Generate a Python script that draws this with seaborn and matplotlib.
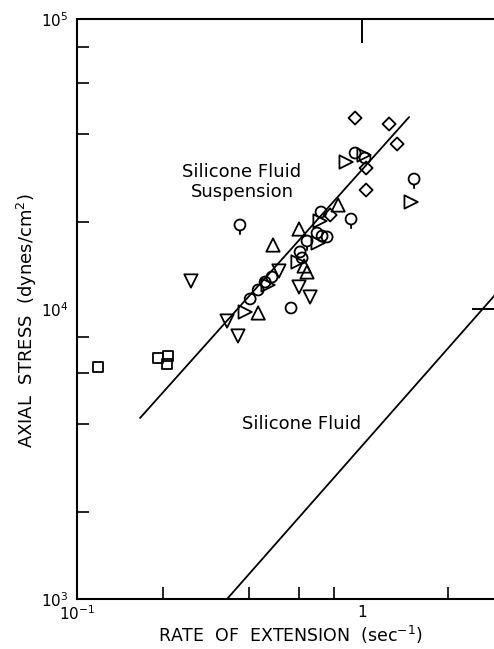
import numpy as np
import pandas as pd
import matplotlib
matplotlib.use("Agg")
import matplotlib.pyplot as plt
from matplotlib.path import Path
from matplotlib.markers import MarkerStyle
from matplotlib.ticker import FixedLocator, FixedFormatter, NullFormatter
import seaborn as sns

# ---------------- data ----------------
square_x = [0.1185, 0.192, 0.209, 0.207]
square_y = [6310, 6780, 6890, 6460]

diamond_x = [0.945, 1.244, 1.327, 1.033, 1.033, 0.773]
diamond_y = [45570, 43450, 37070, 30630, 25720, 21090]

circle_x = [0.945, 1.024, 0.718, 0.695, 0.724, 0.754, 0.606, 0.616,
            0.483, 0.457, 0.432, 0.405, 0.5635]
circle_y = [34510, 33170, 21600, 18280, 17850, 17720, 15730, 15000,
            12890, 12390, 11630, 10830, 10080]

flag_x = [1.522, 0.373, 0.915, 0.641]
flag_y = [28070, 19490, 20430, 17160]

tri_up_x = [0.824, 0.601, 0.487, 0.432, 0.626, 0.641]
tri_up_y = [22840, 18870, 16620, 9690, 14070, 13420]

tri_down_x = [0.251, 0.336, 0.367, 0.511, 0.601, 0.657]
tri_down_y = [12490, 9090, 8070, 13520, 11910, 11000]

tri_right_x = [0.879, 1.016, 1.486, 0.712, 0.701, 0.596, 0.468, 0.389]
tri_right_y = [32130, 33960, 23390, 20110, 16890, 14530, 12100, 9765]

susp_line_x = [0.1664, 1.462]
susp_line_y = [4207, 45900]
fluid_line_x = [0.336, 3.5]
fluid_line_y = [1000, 13650]

x_ticks = [0.1, 1]
x_tick_labels = [r"$10^{-1}$", "1"]
x_minor = [0.2, 0.4, 0.6, 0.8, 2]
y_ticks = [1e3, 1e4, 1e5]
y_tick_labels = [r"$10^{3}$", r"$10^{4}$", r"$10^{5}$"]
y_minor = [2e3, 4e3, 6e3, 8e3, 2e4, 4e4, 6e4, 8e4]

# ---------------- style ----------------
sns.set_theme(style="white")
plt.rcParams["font.family"] = ["DejaVu Sans"]
plt.rcParams["mathtext.fontset"] = "dejavusans"
plt.rcParams["text.color"] = "black"
plt.rcParams["axes.labelcolor"] = "black"
plt.rcParams["xtick.color"] = "black"
plt.rcParams["ytick.color"] = "black"

fig = plt.figure(figsize=(4.94, 6.49), dpi=100)
ax = fig.add_axes([77 / 494, 50 / 649, 419 / 494, 580 / 649])
ax.set_xscale("log")
ax.set_yscale("log")

# flagged circle marker: circle with a short tail below
circ = Path.circle((0, 0), 0.5)
tail = Path([(0, -0.5), (0, -0.9)], [Path.MOVETO, Path.LINETO])
flag_marker = MarkerStyle(Path.make_compound_path(circ, tail))

common = dict(facecolor="none", edgecolor="black", linewidth=1.3, ax=ax,
              legend=False, zorder=3)
sns.scatterplot(x=square_x, y=square_y, marker="s", s=52, **common)
sns.scatterplot(x=diamond_x, y=diamond_y, marker="D", s=44, **common)
sns.scatterplot(x=circle_x, y=circle_y, marker="o", s=62, **common)
sns.scatterplot(x=flag_x, y=flag_y, marker=flag_marker, s=200, **common)
sns.scatterplot(x=tri_up_x, y=tri_up_y, marker="^", s=92, **common)
sns.scatterplot(x=tri_down_x, y=tri_down_y, marker="v", s=92, **common)
sns.scatterplot(x=tri_right_x, y=tri_right_y, marker=">", s=92, **common)

sns.lineplot(x=susp_line_x, y=susp_line_y, color="black", lw=1.3,
             estimator=None, ax=ax, zorder=2)
sns.lineplot(x=fluid_line_x, y=fluid_line_y, color="black", lw=1.3,
             estimator=None, ax=ax, zorder=2)

ax.set_xlim(0.1, 2.95)
ax.set_ylim(1e3, 1e5)

ax.xaxis.set_major_locator(FixedLocator(x_ticks))
ax.xaxis.set_major_formatter(FixedFormatter(x_tick_labels))
ax.xaxis.set_minor_locator(FixedLocator(x_minor))
ax.xaxis.set_minor_formatter(NullFormatter())
ax.yaxis.set_major_locator(FixedLocator(y_ticks))
ax.yaxis.set_major_formatter(FixedFormatter(y_tick_labels))
ax.yaxis.set_minor_locator(FixedLocator(y_minor))
ax.yaxis.set_minor_formatter(NullFormatter())

ax.tick_params(which="major", direction="in", length=17, width=1.4,
               labelsize=11, colors="black", top=True, right=True)
ax.tick_params(which="minor", direction="in", length=8.5, width=1.2,
               bottom=True, left=True, top=False, right=False)
ax.tick_params(axis="y", which="major", pad=6)
ax.tick_params(axis="x", which="major", pad=4)

for sp in ax.spines.values():
    sp.set_linewidth(1.5)
    sp.set_color("black")

ax.text(0.379, 27400, "Silicone Fluid\nSuspension", ha="center", va="center",
        fontsize=13, multialignment="center", linespacing=1.15, color="black")
ax.text(0.611, 4010, "Silicone Fluid", ha="center", va="center", fontsize=13,
        color="black")

ax.set_xlabel("RATE  OF  EXTENSION  (sec$^{-1}$)", fontsize=12.5, color="black")
ax.set_ylabel("AXIAL  STRESS  (dynes/cm$^{2}$)", fontsize=13, color="black")
ax.xaxis.set_label_coords(0.508, -0.043)
ax.yaxis.set_label_coords(-0.09, 0.48)

fig.savefig("out.png", dpi=100)
